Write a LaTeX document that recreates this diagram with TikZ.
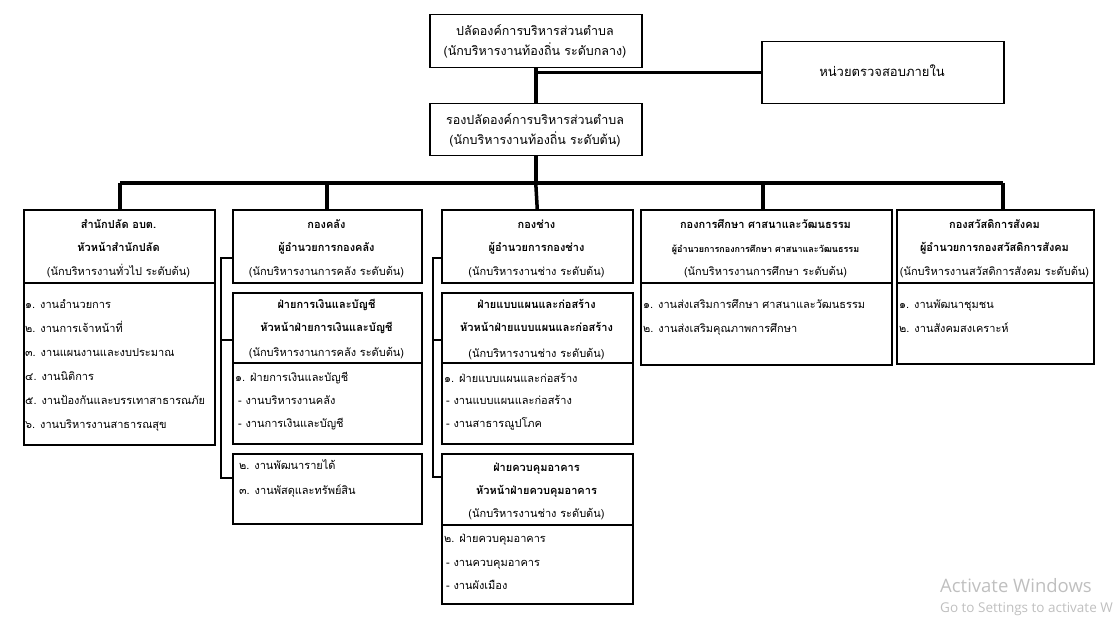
\documentclass[tikz,border=0pt]{standalone}
\usepackage{fontspec}
\setmainfont[Script=Thai]{Loma}
\newfontfamily\wmfont{Open Sans}
\begin{document}
\begin{tikzpicture}[x=1pt,y=-1pt,
  frame/.style={draw, line width=1.5pt, inner sep=0pt, anchor=north west},
  bus/.style={line width=3.5pt},
  side/.style={line width=2.2pt},
  tx/.style={inner sep=0pt, anchor=base, font=\fontsize{11}{13}\selectfont},
  tb/.style={tx, font=\fontsize{11}{13}\selectfont\bfseries},
  tl/.style={tx, font=\fontsize{12.5}{15}\selectfont},
  ts/.style={tx, font=\fontsize{9}{11}\selectfont\bfseries},
  ti/.style={tx, anchor=base west},
  wm/.style={inner sep=0pt, anchor=base west, text=black!25, font=\wmfont}
]
\useasboundingbox (0,0) rectangle (1117,623);
\newcommand\frm[5]{\node[frame, minimum width=#4pt-#2pt, minimum height=#5pt-#3pt] (#1) at (#2,#3) {};}
% frames
\frm{top}{429}{14}{641}{67}
\frm{sec}{429}{103}{641}{155}
\frm{audit}{761}{41}{1003}{103}
\frm{b1}{23}{209}{214}{282}
\frm{b1i}{23}{282}{214}{444}
\frm{b2}{232}{209}{421}{282}
\frm{b2b}{232}{292}{421}{362}
\frm{b2bi}{232}{362}{421}{443}
\frm{b2c}{232}{453}{421}{523}
\frm{b3}{441}{209}{632}{282}
\frm{b3b}{441}{292}{632}{362}
\frm{b3bi}{441}{362}{632}{443}
\frm{b3c}{441}{453}{632}{524}
\frm{b3ci}{441}{524}{632}{603}
\frm{b4}{640}{209}{891}{282}
\frm{b4i}{640}{282}{891}{364}
\frm{b5}{896}{209}{1093}{282}
\frm{b5i}{896}{282}{1093}{363}
% connectors
\coordinate (busL) at (120,183);
\coordinate (busR) at (1003,183);
\coordinate (d2) at (327,183);
\coordinate (d4) at (763,183);
\draw[bus] (top.south) -- (sec.north);
\draw[bus] (audit.west) -- (audit.west -| top.south);
\draw[bus] (sec.south) -- (sec.south |- busL);
\draw[bus] (busL) -- (busR);
\draw[bus] (busL) -- (busL |- b1.north);
\draw[bus] (d2) -- (d2 |- b2.north);
\draw[bus] (sec.south |- busL) -- (b3.north);
\draw[bus] (d4) -- (d4 |- b4.north);
\draw[bus] (busR) -- (busR |- b5.north);
\coordinate (k1) at (221,258);
\coordinate (k2) at (221,340);
\coordinate (k3) at (221,478);
\draw[side] (k1 -| b2.west) -- (k1) -- (k3) -- (k3 -| b2c.west);
\draw[side] (k2) -- (k2 -| b2b.west);
\coordinate (m1) at (433,258);
\coordinate (m2) at (433,340);
\coordinate (m3) at (433,477);
\draw[side] (m1 -| b3.west) -- (m1) -- (m3) -- (m3 -| b3c.west);
\draw[side] (m2) -- (m2 -| b3b.west);
% texts
\node[tl] (t1) at (535,35.5) {ปลัดองค์การบริหารส่วนตำบล};
\node[tl] (t2) at (535,55.5) {(นักบริหารงานท้องถิ่น ระดับกลาง)};
\node[tl] (s1) at (535,124.5) {รองปลัดองค์การบริหารส่วนตำบล};
\node[tl] (s2) at (535,144.5) {(นักบริหารงานท้องถิ่น ระดับต้น)};
\node[tx, font=\fontsize{13}{15}\selectfont] (a1) at (882,76.5) {หน่วยตรวจสอบภายใน};
% box 1
\node[tb] (h11) at (118.5,228) {สำนักปลัด อบต.};
\node[tb] (h12) at (118.5,251) {หัวหน้าสำนักปลัด};
\node[tx] (h13) at (118.5,275) {(นักบริหารงานทั่วไป ระดับต้น)};
\node[ti] (i11) at (25,308) {๑. งานอำนวยการ};
\node[ti] (i12) at (25,332) {๒. งานการเจ้าหน้าที่};
\node[ti] (i13) at (25,356) {๓. งานแผนงานและงบประมาณ};
\node[ti] (i14) at (25,380) {๔. งานนิติการ};
\node[ti] (i15) at (25,404) {๕. งานป้องกันและบรรเทาสาธารณภัย};
\node[ti] (i16) at (25,428) {๖. งานบริหารงานสาธารณสุข};
% box 2
\node[tb] (h21) at (326.5,228) {กองคลัง};
\node[tb] (h22) at (326.5,251) {ผู้อำนวยการกองคลัง};
\node[tx] (h23) at (326.5,275) {(นักบริหารงานการคลัง ระดับต้น)};
\node[tb] (h24) at (326.5,308) {ฝ่ายการเงินและบัญชี};
\node[tb] (h25) at (326.5,331) {หัวหน้าฝ่ายการเงินและบัญชี};
\node[tx] (h26) at (326.5,356) {(นักบริหารงานการคลัง ระดับต้น)};
\node[ti] (i21) at (235,381) {๑. ฝ่ายการเงินและบัญชี};
\node[ti] (i22) at (238,404) {- งานบริหารงานคลัง};
\node[ti] (i23) at (238,427) {- งานการเงินและบัญชี};
\node[ti] (i24) at (239,469) {๒. งานพัฒนารายได้};
\node[ti] (i25) at (239,494) {๓. งานพัสดุและทรัพย์สิน};
% box 3
\node[tb] (h31) at (536.5,228) {กองช่าง};
\node[tb] (h32) at (536.5,251) {ผู้อำนวยการกองช่าง};
\node[tx] (h33) at (536.5,275) {(นักบริหารงานช่าง ระดับต้น)};
\node[tb] (h34) at (536.5,308) {ฝ่ายแบบแผนและก่อสร้าง};
\node[tb] (h35) at (536.5,331) {หัวหน้าฝ่ายแบบแผนและก่อสร้าง};
\node[tx] (h36) at (536.5,357) {(นักบริหารงานช่าง ระดับต้น)};
\node[ti] (i31) at (444,382) {๑. ฝ่ายแบบแผนและก่อสร้าง};
\node[ti] (i32) at (446,404) {- งานแบบแผนและก่อสร้าง};
\node[ti] (i33) at (446,427) {- งานสาธารณูปโภค};
\node[tb] (h37) at (536.5,471) {ฝ่ายควบคุมอาคาร};
\node[tb] (h38) at (536.5,494) {หัวหน้าฝ่ายควบคุมอาคาร};
\node[tx] (h39) at (536.5,517) {(นักบริหารงานช่าง ระดับต้น)};
\node[ti] (i34) at (444,542) {๒. ฝ่ายควบคุมอาคาร};
\node[ti] (i35) at (446,566) {- งานควบคุมอาคาร};
\node[ti] (i36) at (446,589) {- งานผังเมือง};
% box 4
\node[tb] (h41) at (765.5,228) {กองการศึกษา ศาสนาและวัฒนธรรม};
\node[ts] (h42) at (765.5,252) {ผู้อำนวยการกองการศึกษา ศาสนาและวัฒนธรรม};
\node[tx] (h43) at (765.5,275) {(นักบริหารงานการศึกษา ระดับต้น)};
\node[ti] (i41) at (643,308) {๑. งานส่งเสริมการศึกษา ศาสนาและวัฒนธรรม};
\node[ti] (i42) at (643,332) {๒. งานส่งเสริมคุณภาพการศึกษา};
% box 5
\node[tb] (h51) at (994.5,228) {กองสวัสดิการสังคม};
\node[tb] (h52) at (994.5,251) {ผู้อำนวยการกองสวัสดิการสังคม};
\node[tx] (h53) at (994.5,275) {(นักบริหารงานสวัสดิการสังคม ระดับต้น)};
\node[ti] (i51) at (899,308) {๑. งานพัฒนาชุมชน};
\node[ti] (i52) at (899,332) {๒. งานสังคมสงเคราะห์};
% watermark
\node[wm, font=\wmfont\fontsize{18.5}{22}\selectfont] (w1) at (940,592) {Activate Windows};
\node[wm, font=\wmfont\fontsize{13.5}{16}\selectfont] (w2) at (940,612) {Go to Settings to activate W};
\end{tikzpicture}
\end{document}
